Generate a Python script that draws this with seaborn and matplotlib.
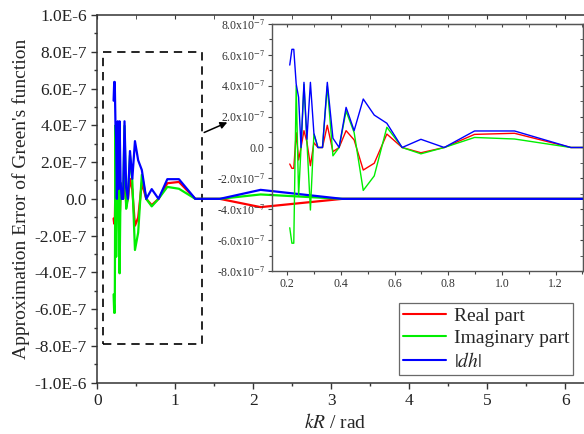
import numpy as np
import pandas as pd
import seaborn as sns
import matplotlib.pyplot as plt
import matplotlib.ticker as mticker
from matplotlib.patches import Rectangle

# kR sample points (rad)
kR = [0.209, 0.217, 0.224, 0.233, 0.242, 0.251, 0.262, 0.273, 0.286, 0.299,
      0.314, 0.331, 0.349, 0.370, 0.393, 0.419, 0.449, 0.483, 0.524, 0.571,
      0.628, 0.698, 0.785, 0.898, 1.047, 1.257, 1.571, 2.094, 3.142, 6.283]

# errors in units of 1e-7
real_part = [-1.07, -1.35, -1.35, 0.96, -0.81, 0.0, 1.09, 0.35, -1.18, 0.31,
             0.0, 0.0, 1.44, -0.27, 0.0, 1.09, 0.49, -1.46, -1.02, 0.87,
             0.0, -0.34, 0.0, 0.85, 0.92, 0.0, 0.0, -0.45, 0.0, 0.0]
imag_part = [-5.2, -6.2, -6.2, 4.0, -3.15, 0.0, 4.08, 0.4, -4.05, 0.87,
             0.0, 0.0, 3.97, -0.54, 0.0, 2.36, 0.97, -2.78, -1.84, 1.31,
             0.0, -0.41, 0.0, 0.65, 0.55, 0.0, 0.0, 0.24, 0.0, 0.0]
abs_dh = [5.34, 6.36, 6.36, 4.11, 3.25, 0.0, 4.22, 0.53, 4.22, 0.92,
          0.0, 0.0, 4.22, 0.6, 0.0, 2.6, 1.09, 3.14, 2.1, 1.57,
          0.0, 0.53, 0.0, 1.07, 1.07, 0.0, 0.0, 0.49, 0.0, 0.0]

series_names = ["Real part", "Imaginary part", r"$|dh|$"]
series_colors = ["#ff0000", "#00ee00", "#0000ff"]

rows = []
for name, vals in zip(series_names, [real_part, imag_part, abs_dh]):
    for x, v in zip(kR, vals):
        rows.append({"kR": x, "err": v * 1e-7, "series": name})
df = pd.DataFrame(rows)
palette = dict(zip(series_names, series_colors))

sns.set_style("ticks")
plt.rcParams["font.family"] = ["Liberation Serif", "DejaVu Serif"]
plt.rcParams["mathtext.fontset"] = "stix"

fig = plt.figure(figsize=(5.84, 4.34), dpi=100)
ax = fig.add_axes([0.1666, 0.1182, 0.839, 0.8472])

sns.lineplot(data=df, x="kR", y="err", hue="series", palette=palette,
             hue_order=series_names, linewidth=1.6, sort=False, ax=ax)

ax.set_xlim(0, 2 * np.pi)
ax.set_ylim(-1e-6, 1e-6)
ax.xaxis.set_major_locator(mticker.MultipleLocator(1))
ax.xaxis.set_minor_locator(mticker.MultipleLocator(0.5))
ax.yaxis.set_major_locator(mticker.MultipleLocator(2e-7))
ax.yaxis.set_minor_locator(mticker.MultipleLocator(1e-7))


def main_fmt(v, pos):
    if abs(v) < 1e-12:
        return "0.0"
    mant, exp = f"{v:.1E}".split("E")
    return f"{mant}E{int(exp)}"


def inset_fmt(v, pos):
    if abs(v) < 1e-12:
        return "0.0"
    mant, exp = f"{v:.1E}".split("E")
    return f"{mant}x10$^{{{int(exp)}}}$"


ax.yaxis.set_major_formatter(mticker.FuncFormatter(main_fmt))
ax.xaxis.set_major_formatter(mticker.FormatStrFormatter("%d"))
ax.tick_params(which="major", length=4, width=1, labelsize=12.5, color="#333333",
               labelcolor="#222222", direction="out")
ax.tick_params(which="minor", length=2.5, width=1, color="#333333", direction="out")
for s in ax.spines.values():
    s.set_color("#333333")
    s.set_linewidth(1.1)
ax.spines["right"].set_visible(False)
top = ax.secondary_xaxis("top")
top.xaxis.set_major_locator(mticker.MultipleLocator(1))
top.xaxis.set_minor_locator(mticker.MultipleLocator(0.5))
top.tick_params(which="both", direction="in", labeltop=False, color="#333333", length=3)
top.spines["top"].set_visible(False)

ax.set_xlabel(r"$kR$ / rad", fontsize=14)
ax.set_ylabel("Approximation Error of Green's function", fontsize=14)
ax.xaxis.set_label_coords(0.485, -0.082)
ax.yaxis.set_label_coords(-0.137, 0.5)

leg = ax.legend(loc="lower right", bbox_to_anchor=(573 / 584, 59 / 434),
                bbox_transform=fig.transFigure, borderaxespad=0, fontsize=14,
                frameon=True, fancybox=False, edgecolor="#444444",
                handlelength=2.2, handletextpad=0.4, labelspacing=0.25,
                borderpad=0.2)
leg.get_frame().set_linewidth(0.9)
for line in leg.get_lines():
    line.set_linewidth(1.5)

# dashed zoom box and arrow
ax.add_patch(Rectangle((0.073, -7.9e-7), 1.342 - 0.073, 7.9e-7 + 8.0e-7,
                       fill=False, edgecolor="black", linewidth=1.2,
                       linestyle=(0, (5, 3.5))))
ax.annotate("", xy=(1.70, 4.22e-7), xytext=(1.338, 3.55e-7),
            arrowprops=dict(arrowstyle="-|>", color="black", lw=1.1,
                            mutation_scale=10))

# inset
ins = fig.add_axes([0.4652, 0.3756, 0.5325, 0.5691])
ins.set_facecolor("none")
sns.lineplot(data=df, x="kR", y="err", hue="series", palette=palette,
             hue_order=series_names, linewidth=1.0, sort=False, ax=ins,
             legend=False)
ins.set_xlim(0.1416, 1.301)
ins.set_ylim(-8e-7, 8e-7)
ins.xaxis.set_major_locator(mticker.MultipleLocator(0.2))
ins.xaxis.set_minor_locator(mticker.MultipleLocator(0.1))
ins.yaxis.set_major_locator(mticker.MultipleLocator(2e-7))
ins.yaxis.set_minor_locator(mticker.MultipleLocator(1e-7))
ins.xaxis.set_major_formatter(mticker.FormatStrFormatter("%.1f"))
ins.yaxis.set_major_formatter(mticker.FuncFormatter(inset_fmt))
ins.tick_params(which="major", length=3, width=0.8, labelsize=8.5,
                color="#444444", labelcolor="#333333", direction="out", pad=2)
ins.tick_params(which="minor", length=2, width=0.8, color="#444444", direction="out")
ins.set_xlabel("")
ins.set_ylabel("")
for s in ins.spines.values():
    s.set_color("#555555")
    s.set_linewidth(1.0)
itop = ins.secondary_xaxis("top")
itop.xaxis.set_major_locator(mticker.MultipleLocator(0.2))
itop.xaxis.set_minor_locator(mticker.MultipleLocator(0.1))
itop.tick_params(which="both", direction="in", labeltop=False, color="#444444", length=2.5)
iright = ins.secondary_yaxis("right")
iright.yaxis.set_major_locator(mticker.MultipleLocator(2e-7))
iright.yaxis.set_minor_locator(mticker.MultipleLocator(1e-7))
iright.tick_params(which="both", direction="in", labelright=False, color="#444444", length=2.5)

fig.savefig("out.png", dpi=100)
